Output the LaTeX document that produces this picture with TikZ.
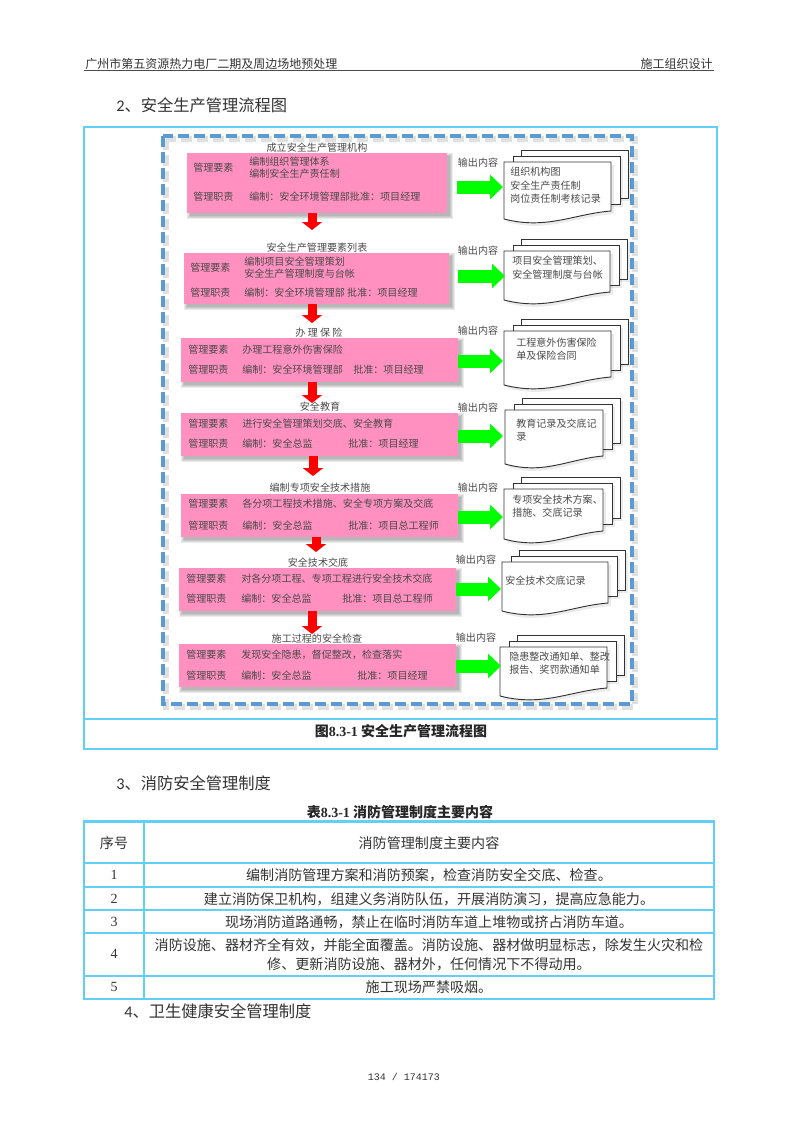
\documentclass[tikz,border=0pt]{standalone}
\usepackage{fontspec}
\setmainfont{Noto Sans CJK SC}
\newfontfamily\tms{Liberation Serif}
\newfontfamily\crl{Carlito}
\newfontfamily\mno{Liberation Mono}
\usetikzlibrary{arrows.meta,calc}
\definecolor{pinkbox}{HTML}{FF90C0}
\definecolor{frameblue}{HTML}{5B9BD5}
\definecolor{cyanline}{HTML}{62CFF4}
\definecolor{difftext}{HTML}{4A4A4A}
\definecolor{bodytext}{HTML}{333333}
\tikzset{
 pinkfill/.style={fill=pinkbox,draw=none,inner sep=0pt},
 dtxt/.style={font=\fontsize{7.55pt}{9pt}\selectfont,text=difftext,inner sep=0pt,anchor=west},
 dtitle/.style={font=\fontsize{7.55pt}{9pt}\selectfont,text=difftext,inner sep=0pt,anchor=center},
 htxt/.style={font=\fontsize{9pt}{11pt}\selectfont,text=bodytext,inner sep=0pt},
 headtxt/.style={font=\fontsize{12.2pt}{14pt}\selectfont,text=bodytext,inner sep=0pt,anchor=west},
 captxt/.style={font=\fontsize{10.5pt}{12pt}\selectfont\bfseries,text=black!85,inner sep=0pt},
 celltxt/.style={font=\fontsize{10.55pt}{12pt}\selectfont,text=bodytext,inner sep=0pt},
 redarrow/.style={draw=red,line width=6.75pt,-{Triangle[width=15pt,length=6pt]},red},
 greenarrow/.style={draw=green,line width=9.75pt,-{Triangle[width=18pt,length=9.75pt]},green},
 cyanrule/.style={draw=cyanline,line width=1.6pt},
 sheet/.style={draw=black!80,line width=0.7pt,fill=white},
}
\newcommand\softbox[5]{%
 \foreach \k in {0,1,2,3}{\fill[black,opacity=.08] (#2+3-\k,#3+3-\k) rectangle (#4+3+\k,#5+3+\k);}%
 \pgfmathsetmacro\mybw{(#4-#2)*0.75}%
 \pgfmathsetmacro\mybh{(#5-#3)*0.75}%
 \node[pinkfill,minimum width=\mybw pt,minimum height=\mybh pt] (#1) at ({(#2+#4)/2},{(#3+#5)/2}) {};}
\newcommand\backsheet[4]{% x y w h
 \fill[black,opacity=.08] (#1+3,#2+3) rectangle (#1+#3+3,#2+#4+3);
 \draw[sheet] (#1,#2) rectangle (#1+#3,#2+#4);}
\newcommand\onesheet[4]{% x y w h
 \fill[black,opacity=.08] (#1+3,#2+3) -- (#1+#3+3,#2+3) -- (#1+#3+3,#2+#4+3) .. controls (#1+.65*#3,#2+#4+6) and (#1+.4*#3,#2+#4+22) .. (#1+3,#2+#4+11) -- cycle;
 \draw[sheet] (#1,#2) -- (#1+#3,#2) -- (#1+#3,#2+#4) .. controls (#1+.65*#3,#2+#4+3) and (#1+.4*#3,#2+#4+19) .. (#1,#2+#4+8) -- cycle;}
\newcommand\docstack[5]{% name x y w h
 \backsheet{#2+17}{#3-12}{#4}{#5-1}
 \backsheet{#2+9}{#3-6}{#4}{#5-1}
 \onesheet{#2}{#3}{#4}{#5}
 \coordinate (#1) at (#2,{#3+#5/2});}
\begin{document}
\begin{tikzpicture}[x=0.75pt,y=-0.75pt]
\useasboundingbox[fill=white] (0,0) rectangle (800,1132);
% header
\node[htxt,anchor=west] (hl) at (85,64) {广州市第五资源热力电厂二期及周边场地预处理};
\node[htxt,anchor=east] (hr) at (713,64) {施工组织设计};
\coordinate (rl) at (84,70.5); \coordinate (rr) at (714,70.5);
\draw[black!70,line width=0.8pt] (rl) -- (rr);
\node[headtxt] (h2) at (116,105) {{\crl 2}、安全生产管理流程图};
% outer frame
\draw[cyanrule] (84,127) rectangle (717,749);
\coordinate (sl) at (84,719); \coordinate (sr) at (717,719);
\draw[cyanrule] (sl) -- (sr);
\node[captxt] (cap) at (401,731) {图{\tms\bfseries 8.3-1} 安全生产管理流程图};
% dashed frame
\draw[black,opacity=.12,line width=4pt,dash pattern=on 8.25pt off 3.75pt] (166,139) rectangle (635,707);
\draw[frameblue,line width=3pt,dash pattern=on 8.25pt off 3.75pt] (163,136) rectangle (632,704);
% boxes
\softbox{b1}{187}{153}{447}{213}
\softbox{b2}{184}{253}{449}{304}
\softbox{b3}{181}{338}{458}{382}
\softbox{b4}{181}{413}{458}{456}
\softbox{b5}{181}{494}{458}{537}
\softbox{b6}{179}{568}{456}{611}
\softbox{b7}{179}{644}{456}{687}
% documents
\docstack{d1}{504}{162}{107}{49}
\docstack{d2}{504}{251}{106}{41}
\docstack{d3}{504}{331}{107}{46}
\docstack{d4}{505}{410}{98}{46}
\docstack{d5}{504}{489}{99}{42}
\docstack{d6}{502}{562}{106}{41}
\docstack{d7}{500}{647}{107}{41}
% red arrows
\coordinate (r1a) at (312,213); \coordinate (r1b) at (312,230);
\coordinate (r2a) at (312,304); \coordinate (r2b) at (312,323);
\coordinate (r3a) at (312,382); \coordinate (r3b) at (312,403);
\coordinate (r4a) at (313,456); \coordinate (r4b) at (313,476);
\coordinate (r5a) at (316,537); \coordinate (r5b) at (316,552);
\coordinate (r6a) at (312,611); \coordinate (r6b) at (312,634);
\draw[redarrow] (r1a) -- (r1b);
\draw[redarrow] (r2a) -- (r2b);
\draw[redarrow] (r3a) -- (r3b);
\draw[redarrow] (r4a) -- (r4b);
\draw[redarrow] (r5a) -- (r5b);
\draw[redarrow] (r6a) -- (r6b);
% green arrows
\coordinate (g1) at (503,187); \coordinate (g2) at (505,276); \coordinate (g3) at (503,361);
\coordinate (g4) at (503,436); \coordinate (g5) at (503,517); \coordinate (g6) at (501,589); \coordinate (g7) at (501,666);
\draw[greenarrow] (b1.east |- g1) ++(10,0) -- (g1);
\draw[greenarrow] (b2.east |- g2) ++(9,0) -- (g2);
\draw[greenarrow] (b3.east |- g3) -- (g3);
\draw[greenarrow] (b4.east |- g4) -- (g4);
\draw[greenarrow] (b5.east |- g5) -- (g5);
\draw[greenarrow] (b6.east |- g6) -- (g6);
\draw[greenarrow] (b7.east |- g7) -- (g7);
% output labels
\node[dtitle] (o1) at (478,163) {输出内容};
\node[dtitle] (o2) at (478,251) {输出内容};
\node[dtitle] (o3) at (478,331) {输出内容};
\node[dtitle] (o4) at (478,408) {输出内容};
\node[dtitle] (o5) at (478,488) {输出内容};
\node[dtitle] (o6) at (476,560) {输出内容};
\node[dtitle] (o7) at (476,638) {输出内容};
% box 1
\node[dtitle] (t1) at (317,148) {成立安全生产管理机构};
\node[dtxt] (a1) at (193,168) {管理要素};
\node[dtxt] (a1x) at (249,162) {编制组织管理体系};
\node[dtxt] (a1y) at (249,174) {编制安全生产责任制};
\node[dtxt] (c1) at (193,197) {管理职责};
\node[dtxt] (c1x) at (249,197) {编制：安全环境管理部批准：项目经理};
% box 2
\node[dtitle] (t2) at (317,248) {安全生产管理要素列表};
\node[dtxt] (a2) at (190,268) {管理要素};
\node[dtxt] (a2x) at (244,262) {编制项目安全管理策划};
\node[dtxt] (a2y) at (244,274) {安全生产管理制度与台帐};
\node[dtxt] (c2) at (190,293) {管理职责};
\node[dtxt] (c2x) at (244,293) {编制：安全环境管理部 批准：项目经理};
% box 3
\node[dtitle] (t3) at (319,333) {办\ 理\ 保\ 险};
\node[dtxt] (a3) at (188,350) {管理要素};
\node[dtxt] (a3x) at (242,350) {办理工程意外伤害保险};
\node[dtxt] (c3) at (188,370) {管理职责};
\node[dtxt] (c3x) at (242,370) {编制：安全环境管理部};
\node[dtxt] (c3y) at (353,370) {批准：项目经理};
% box 4
\node[dtitle] (t4) at (320,407) {安全教育};
\node[dtxt] (a4) at (188,424) {管理要素};
\node[dtxt] (a4x) at (242,424) {进行安全管理策划交底、安全教育};
\node[dtxt] (c4) at (188,444) {管理职责};
\node[dtxt] (c4x) at (242,444) {编制：安全总监};
\node[dtxt] (c4y) at (348,444) {批准：项目经理};
% box 5
\node[dtitle] (t5) at (320,488) {编制专项安全技术措施};
\node[dtxt] (a5) at (188,504) {管理要素};
\node[dtxt] (a5x) at (242,504) {各分项工程技术措施、安全专项方案及交底};
\node[dtxt] (c5) at (188,526) {管理职责};
\node[dtxt] (c5x) at (242,526) {编制：安全总监};
\node[dtxt] (c5y) at (348,526) {批准：项目总工程师};
% box 6
\node[dtitle] (t6) at (318,563) {安全技术交底};
\node[dtxt] (a6) at (186,579) {管理要素};
\node[dtxt] (a6x) at (241,579) {对各分项工程、专项工程进行安全技术交底};
\node[dtxt] (c6) at (186,599) {管理职责};
\node[dtxt] (c6x) at (241,599) {编制：安全总监};
\node[dtxt] (c6y) at (342,599) {批准：项目总工程师};
% box 7
\node[dtitle] (t7) at (317,639) {施工过程的安全检查};
\node[dtxt] (a7) at (186,655) {管理要素};
\node[dtxt] (a7x) at (241,655) {发现安全隐患，督促整改，检查落实};
\node[dtxt] (c7) at (186,676) {管理职责};
\node[dtxt] (c7x) at (241,676) {编制：安全总监};
\node[dtxt] (c7y) at (357,676) {批准：项目经理};
% doc text
\node[dtxt] (e1a) at (510,172) {组织机构图};
\node[dtxt] (e1b) at (510,186) {安全生产责任制};
\node[dtxt] (e1c) at (510,199) {岗位责任制考核记录};
\node[dtxt] (e2a) at (512,261) {项目安全管理策划、};
\node[dtxt] (e2b) at (512,275) {安全管理制度与台帐};
\node[dtxt] (e3a) at (516,343) {工程意外伤害保险};
\node[dtxt] (e3b) at (516,356) {单及保险合同};
\node[dtxt] (e4a) at (516,424) {教育记录及交底记};
\node[dtxt] (e4b) at (516,437) {录};
\node[dtxt] (e5a) at (512,500) {专项安全技术方案、};
\node[dtxt] (e5b) at (512,513) {措施、交底记录};
\node[dtxt] (e6a) at (505,581) {安全技术交底记录};
\node[dtxt] (e7a) at (509,657) {隐患整改通知单、整改};
\node[dtxt] (e7b) at (509,670) {报告、奖罚款通知单};
% section 3
\node[headtxt] (h3) at (116,783) {{\crl 3}、消防安全管理制度};
\node[captxt] (tcap) at (400,812) {表{\tms\bfseries 8.3-1} 消防管理制度主要内容};
% table
\draw[cyanrule] (84,821.5) rectangle (714,999);
\coordinate (v1) at (144,821.5); \coordinate (v2) at (144,999);
\draw[cyanline,line width=1.1pt] (v1) -- (v2);
\foreach \yy/\nn in {863/a,887/b,910/c,933/d,976/e}{
 \coordinate (l\nn) at (84,\yy); \coordinate (m\nn) at (714,\yy);
 \draw[cyanline,line width=1.1pt] (l\nn) -- (m\nn);}
\node[celltxt] (s0) at (114,843) {序号};
\node[celltxt] (x0) at (429,843) {消防管理制度主要内容};
\node[celltxt,font=\fontsize{10.5pt}{12pt}\tms] (s1) at (114,875) {1};
\node[celltxt] (x1) at (429,875) {编制消防管理方案和消防预案，检查消防安全交底、检查。};
\node[celltxt,font=\fontsize{10.5pt}{12pt}\tms] (s2) at (114,899) {2};
\node[celltxt] (x2) at (429,899) {建立消防保卫机构，组建义务消防队伍，开展消防演习，提高应急能力。};
\node[celltxt,font=\fontsize{10.5pt}{12pt}\tms] (s3) at (114,922) {3};
\node[celltxt] (x3) at (429,922) {现场消防道路通畅，禁止在临时消防车道上堆物或挤占消防车道。};
\node[celltxt,font=\fontsize{10.5pt}{12pt}\tms] (s4) at (114,954) {4};
\node[celltxt] (x4a) at (429,945) {消防设施、器材齐全有效，并能全面覆盖。消防设施、器材做明显标志，除发生火灾和检};
\node[celltxt] (x4b) at (429,964) {修、更新消防设施、器材外，任何情况下不得动用。};
\node[celltxt,font=\fontsize{10.5pt}{12pt}\tms] (s5) at (114,987) {5};
\node[celltxt] (x5) at (429,987) {施工现场严禁吸烟。};
% section 4
\node[headtxt] (h4) at (124,1011) {{\crl 4}、卫生健康安全管理制度};
\node[inner sep=0pt,text=bodytext,font=\fontsize{7.5pt}{9pt}\mno] (pg) at (404,1077) {134 / 174173};
\end{tikzpicture}
\end{document}
